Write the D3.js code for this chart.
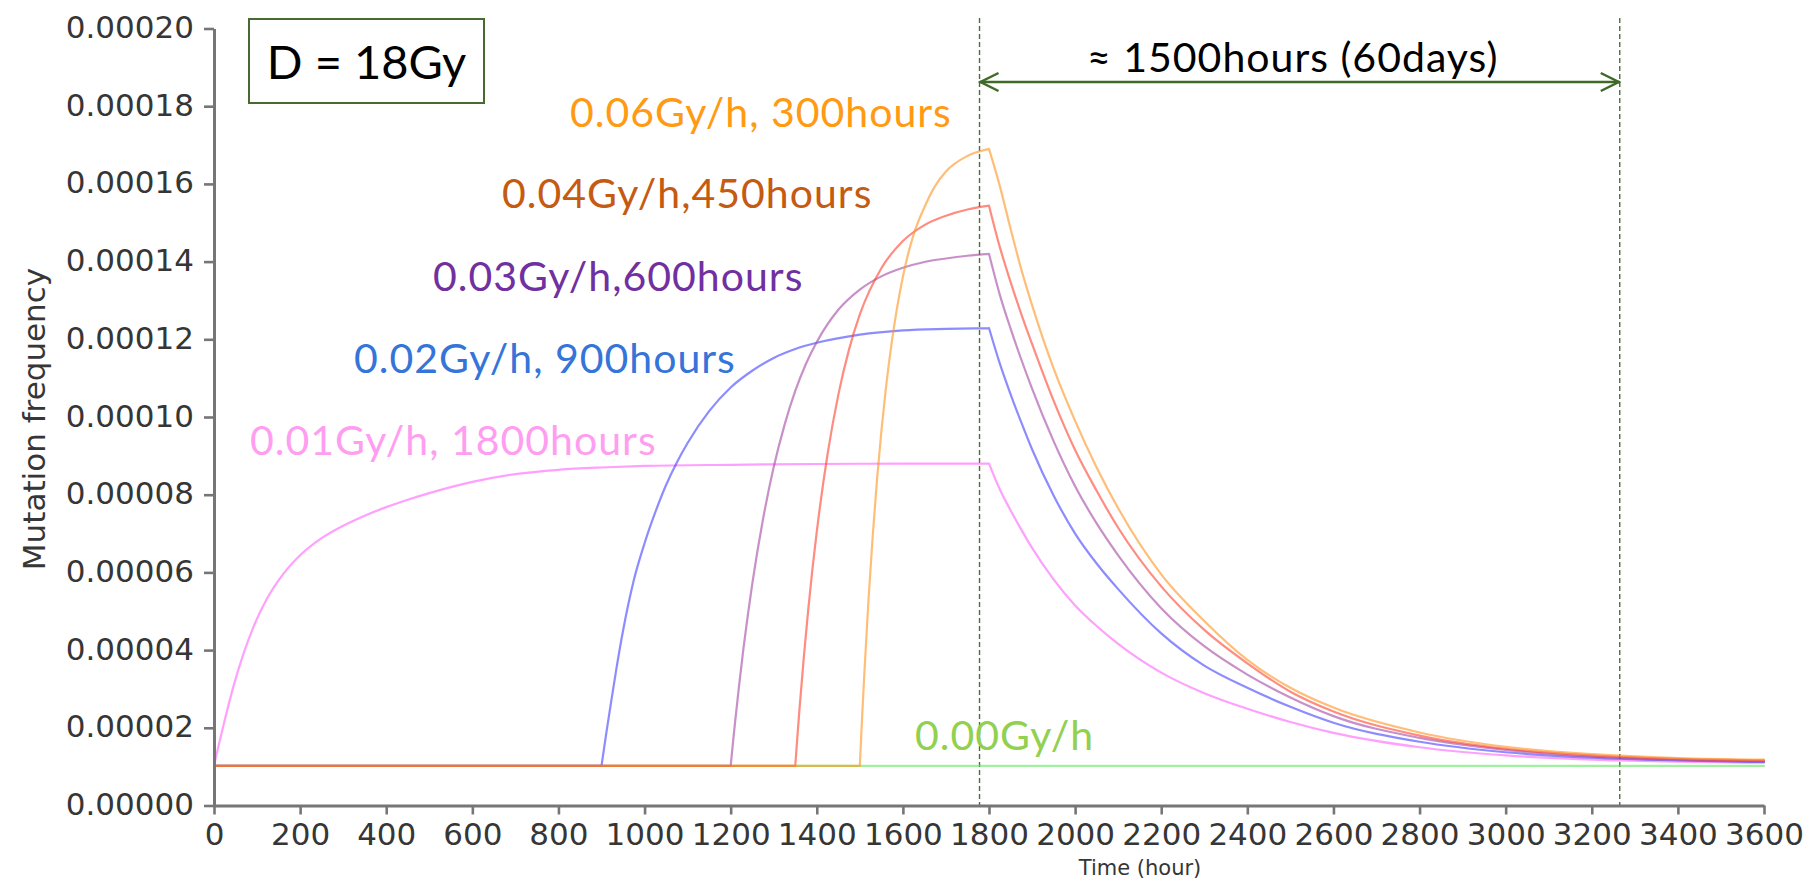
<!DOCTYPE html>
<html>
<head>
<meta charset="utf-8">
<script src="https://cdn.jsdelivr.net/npm/d3@7"></script>
<style>
  html, body { margin: 0; padding: 0; background: #ffffff; }
  svg { display: block; }
</style>
</head>
<body>
<svg id="chart" width="1810" height="890"></svg>
<script>
// ---- axis ticks ----
const timeTicks = [0, 200, 400, 600, 800, 1000, 1200, 1400, 1600, 1800, 2000,
                   2200, 2400, 2600, 2800, 3000, 3200, 3400, 3600];
const freqTicks = [0, 0.00002, 0.00004, 0.00006, 0.00008, 0.00010,
                   0.00012, 0.00014, 0.00016, 0.00018, 0.00020];

// ---- simulated mutation frequency, [hour, frequency] ----
const rate000 = [[0, 10.2e-6], [3600, 10.2e-6]];

const rate001 = [
  [0, 10.2e-6], [10, 15.1e-6], [25, 22.0e-6], [45, 30.6e-6], [68, 38.9e-6], [91, 45.8e-6],
  [122, 53.0e-6], [161, 59.6e-6], [200, 64.4e-6], [250, 68.8e-6], [300, 72.0e-6],
  [350, 74.6e-6], [400, 76.8e-6], [450, 78.7e-6], [500, 80.4e-6], [600, 83.3e-6],
  [700, 85.3e-6], [800, 86.4e-6], [900, 87.0e-6], [1000, 87.4e-6], [1200, 87.7e-6],
  [1400, 87.9e-6], [1600, 88.0e-6], [1800, 88.0e-6],
  [1825, 81.4e-6], [1850, 76.0e-6], [1875, 71.0e-6], [1900, 66.3e-6], [1950, 58.2e-6],
  [2000, 51.5e-6], [2050, 46.2e-6], [2100, 41.6e-6], [2200, 34.2e-6], [2300, 28.9e-6],
  [2400, 24.9e-6], [2500, 21.5e-6], [2600, 18.7e-6], [2800, 15.0e-6], [3000, 12.9e-6],
  [3200, 11.8e-6], [3400, 11.3e-6], [3600, 11.0e-6]
];

const rate002 = [
  [0, 10.2e-6], [900, 10.2e-6], [910, 17.8e-6], [920, 25.0e-6], [935, 35.5e-6],
  [950, 45.0e-6], [975, 58.0e-6], [1000, 67.5e-6], [1025, 75.5e-6], [1050, 82.5e-6],
  [1075, 88.3e-6], [1100, 93.3e-6], [1150, 101.5e-6], [1200, 107.6e-6], [1250, 111.9e-6],
  [1300, 115.2e-6], [1350, 117.5e-6], [1400, 119.1e-6], [1500, 121.2e-6], [1600, 122.3e-6],
  [1700, 122.7e-6], [1800, 122.9e-6],
  [1825, 113.8e-6], [1850, 105.9e-6], [1875, 98.6e-6], [1900, 91.7e-6], [1950, 79.8e-6],
  [2000, 70.0e-6], [2050, 62.3e-6], [2100, 55.7e-6], [2200, 44.3e-6], [2300, 36.0e-6],
  [2400, 30.3e-6], [2500, 25.4e-6], [2600, 21.3e-6], [2800, 16.4e-6], [3000, 13.7e-6],
  [3200, 12.3e-6], [3400, 11.6e-6], [3600, 11.2e-6]
];

const rate003 = [
  [0, 10.2e-6], [1200, 10.2e-6], [1205, 15.8e-6], [1210, 21.2e-6], [1220, 31.3e-6],
  [1230, 40.7e-6], [1240, 49.1e-6], [1250, 56.9e-6], [1275, 73.6e-6], [1300, 87.1e-6],
  [1325, 97.9e-6], [1350, 106.7e-6], [1375, 113.7e-6], [1400, 119.3e-6], [1450, 127.6e-6],
  [1500, 132.8e-6], [1550, 136.2e-6], [1600, 138.4e-6], [1650, 139.9e-6], [1700, 140.8e-6],
  [1750, 141.5e-6], [1800, 142.0e-6],
  [1825, 131.5e-6], [1850, 122.8e-6], [1875, 114.8e-6], [1900, 107.3e-6], [1950, 93.8e-6],
  [2000, 82.2e-6], [2050, 72.6e-6], [2100, 64.4e-6], [2200, 50.8e-6], [2300, 41.0e-6],
  [2400, 33.7e-6], [2500, 27.8e-6], [2600, 23.0e-6], [2800, 17.4e-6], [3000, 14.3e-6],
  [3200, 12.6e-6], [3400, 11.8e-6], [3600, 11.4e-6]
];

const rate004 = [
  [0, 10.2e-6], [1350, 10.2e-6], [1355, 17.8e-6], [1360, 25.0e-6], [1370, 38.3e-6],
  [1380, 50.2e-6], [1390, 61.0e-6], [1400, 70.5e-6], [1425, 90.4e-6], [1450, 105.7e-6],
  [1475, 117.4e-6], [1500, 126.4e-6], [1550, 138.3e-6], [1600, 145.3e-6], [1650, 149.4e-6],
  [1700, 151.8e-6], [1750, 153.4e-6], [1800, 154.4e-6],
  [1825, 143.8e-6], [1850, 134.8e-6], [1875, 126.5e-6], [1900, 118.8e-6], [1950, 104.2e-6],
  [2000, 91.5e-6], [2050, 81.0e-6], [2100, 71.5e-6], [2200, 56.4e-6], [2300, 45.2e-6],
  [2400, 36.6e-6], [2500, 29.3e-6], [2600, 24.2e-6], [2800, 18.0e-6], [3000, 14.6e-6],
  [3200, 12.9e-6], [3400, 12.0e-6], [3600, 11.6e-6]
];

const rate006 = [
  [0, 10.2e-6], [1500, 10.2e-6], [1505, 22.1e-6], [1510, 33.0e-6], [1520, 52.7e-6],
  [1530, 69.5e-6], [1540, 84.0e-6], [1550, 96.3e-6], [1560, 106.9e-6], [1575, 119.9e-6],
  [1600, 136.1e-6], [1625, 147.0e-6], [1650, 154.0e-6], [1675, 159.5e-6], [1700, 163.2e-6],
  [1750, 167.2e-6], [1800, 169.0e-6],
  [1825, 159.5e-6], [1850, 148.5e-6], [1875, 138.0e-6], [1900, 128.8e-6], [1950, 112.5e-6],
  [2000, 99.0e-6], [2050, 87.0e-6], [2100, 76.5e-6], [2200, 59.5e-6], [2300, 47.5e-6],
  [2400, 37.5e-6], [2500, 30.3e-6], [2600, 25.2e-6], [2800, 18.8e-6], [3000, 15.1e-6],
  [3200, 13.2e-6], [3400, 12.2e-6], [3600, 11.8e-6]
];

// irradiation windows (hours): start of exposure, all end at 1800 h
const exposureStart = [null, 0, 900, 1200, 1350, 1500];
const exposureEnd = 1800;

const seriesLabels = ["0.00Gy/h", "0.01Gy/h, 1800hours", "0.02Gy/h, 900hours",
                      "0.03Gy/h,600hours", "0.04Gy/h,450hours", "0.06Gy/h, 300hours"];

// recovery window marked on the plot (hours)
const recoveryWindow = [1778, 3265];

// ---- styling ----
const lineColors  = ["#61e661", "#ff61ff", "#3f3fff", "#a346a3", "#ff3f2b", "#ff931e"];
const labelColors = ["#92d050", "#ff9ef0", "#3574d8", "#7030a0", "#c55a11", "#ff9a12"];
// label anchor: [left x, baseline y] in page pixels
const labelPos = [[915, 750], [250, 455], [354, 373], [433, 291], [502, 208], [570, 127]];

const svg = d3.select("#chart");
svg.append("rect").attr("width", 1810).attr("height", 890).attr("fill", "#ffffff");

const x = d3.scaleLinear().domain([0, 3600]).range([214, 1764]);
const y = d3.scaleLinear().domain([0, 0.0002]).range([805.5, 28.5]);

const axisColor = "#767676";
const tickFont = "'DejaVu Sans', sans-serif";
const tickInk = "#363636";

// ---- recovery window dashed markers ----
recoveryWindow.forEach(h => {
  svg.append("line")
    .attr("x1", x(h)).attr("x2", x(h))
    .attr("y1", 18).attr("y2", 806)
    .attr("stroke", "#4f6b3c").attr("stroke-width", 1.4)
    .attr("stroke-dasharray", "5,3");
});

// ---- series lines ----
const lineGen = d3.line()
  .x(d => x(d[0]))
  .y(d => y(d[1]))
  .curve(d3.curveMonotoneX);

// split a series at the exposure start/end so the corners stay sharp
function splitAtBreaks(points, breaks) {
  const pieces = [];
  let current = [];
  points.forEach(p => {
    current.push(p);
    if (breaks.includes(p[0])) {
      pieces.push(current);
      current = [p];
    }
  });
  pieces.push(current);
  return pieces.filter(p => p.length > 1);
}

const allSeries = [rate000, rate001, rate002, rate003, rate004, rate006];
allSeries.forEach((pts, i) => {
  const breaks = exposureStart[i] === null ? [] : [exposureStart[i], exposureEnd];
  const d = splitAtBreaks(pts, breaks).map(p => lineGen(p)).join("");
  svg.append("path")
    .attr("d", d)
    .attr("fill", "none")
    .attr("stroke", lineColors[i])
    .attr("stroke-width", 2.2)
    .attr("stroke-linecap", "round")
    .attr("stroke-linejoin", "round")
    .attr("opacity", 0.6);
});

// ---- axes ----
const yAxis = d3.axisLeft(y)
  .tickValues(freqTicks)
  .tickFormat(d3.format(".5f"))
  .tickSize(10)
  .tickSizeOuter(0)
  .tickPadding(10);

const gy = svg.append("g").attr("transform", "translate(214,0)").call(yAxis);

const xAxis = d3.axisBottom(x)
  .tickValues(timeTicks)
  .tickFormat(d3.format("d"))
  .tickSize(9)
  .tickSizeOuter(0)
  .tickPadding(8);

const gx = svg.append("g").attr("transform", "translate(0,805.5)").call(xAxis);

[gx, gy].forEach(g => {
  g.select(".domain").attr("stroke", axisColor).attr("stroke-width", 3);
  g.selectAll(".tick line").attr("stroke", axisColor).attr("stroke-width", 2.6);
  g.selectAll(".tick text")
    .attr("fill", tickInk)
    .style("font-family", tickFont)
    .style("font-size", "31px");
});
gy.selectAll(".tick text").attr("dy", "0.29em");

// axis titles
svg.append("text")
  .attr("transform", "translate(45,419) rotate(-90)")
  .attr("text-anchor", "middle")
  .attr("fill", tickInk)
  .style("font-family", tickFont)
  .style("font-size", "31px")
  .text("Mutation frequency");

svg.append("text")
  .attr("x", 1140).attr("y", 875)
  .attr("text-anchor", "middle")
  .attr("fill", tickInk)
  .style("font-family", tickFont)
  .style("font-size", "21px")
  .text("Time (hour)");

// ---- series labels ----
const labelFont = "Lato, 'Open Sans', sans-serif";
seriesLabels.forEach((t, i) => {
  svg.append("text")
    .attr("x", labelPos[i][0]).attr("y", labelPos[i][1])
    .attr("fill", labelColors[i])
    .style("font-family", labelFont)
    .style("font-size", "41px")
    .style("letter-spacing", "1px")
    .text(t);
});

// ---- dose box ----
svg.append("rect")
  .attr("x", 249).attr("y", 19).attr("width", 235).attr("height", 84)
  .attr("fill", "#ffffff")
  .attr("stroke", "#476b2e").attr("stroke-width", 2);
svg.append("text")
  .attr("x", 366.5).attr("y", 79)
  .attr("text-anchor", "middle")
  .attr("fill", "#000000")
  .style("font-family", labelFont)
  .style("font-size", "47px")
  .text("D = 18Gy");

// ---- recovery window arrow and caption ----
const arrowY = 82;
const ax1 = x(recoveryWindow[0]), ax2 = x(recoveryWindow[1]);
const arrowColor = "#3f6a27";
svg.append("line")
  .attr("x1", ax1).attr("x2", ax2).attr("y1", arrowY).attr("y2", arrowY)
  .attr("stroke", arrowColor).attr("stroke-width", 2.5);
svg.append("path")
  .attr("d", `M${ax1 + 19},${arrowY - 9} L${ax1 + 1},${arrowY} L${ax1 + 19},${arrowY + 9}`)
  .attr("fill", "none").attr("stroke", arrowColor).attr("stroke-width", 2.5);
svg.append("path")
  .attr("d", `M${ax2 - 19},${arrowY - 9} L${ax2 - 1},${arrowY} L${ax2 - 19},${arrowY + 9}`)
  .attr("fill", "none").attr("stroke", arrowColor).attr("stroke-width", 2.5);

svg.append("text")
  .attr("x", 1087).attr("y", 72)
  .attr("fill", "#000000")
  .style("font-family", labelFont)
  .style("font-size", "41px")
  .style("letter-spacing", "1px")
  .text("≈ 1500hours (60days)");
</script>
</body>
</html>
